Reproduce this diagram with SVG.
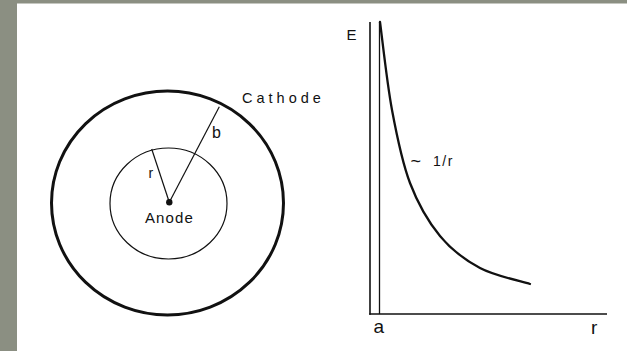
<svg xmlns="http://www.w3.org/2000/svg" width="627" height="351" viewBox="0 0 627 351">
<style>
.t{font-family:"Liberation Sans",Arial,sans-serif;fill:#111}
.thin{fill:none;stroke:#111;stroke-width:1.2}
</style>
<rect x="0" y="0" width="627" height="351" fill="#ffffff"/>
<rect x="0" y="0" width="627" height="3.5" fill="#8b8f82"/>
<rect x="0" y="0" width="17" height="351" fill="#8b8f82"/>

<g id="cathode">
  <ellipse cx="167.5" cy="203" rx="116" ry="112" fill="none" stroke="#111" stroke-width="3"/>
  <text class="t" x="242" y="103" font-size="14.5" letter-spacing="4">Cathode</text>
</g>
<g id="inner-circle">
  <ellipse class="thin" cx="168.5" cy="203.5" rx="58.5" ry="55.5"/>
</g>
<g id="anode">
  <circle cx="169.3" cy="202.3" r="3.2" fill="#111"/>
  <text class="t" x="145" y="222.7" font-size="15" letter-spacing="1.1">Anode</text>
</g>
<g id="connectors">
  <line class="thin" x1="169.3" y1="202.3" x2="151.7" y2="149"/>
  <line class="thin" x1="169.3" y1="202.3" x2="219.3" y2="106.7"/>
  <text class="t" x="148.5" y="178" font-size="14">r</text>
  <text class="t" x="212" y="138.3" font-size="16">b</text>
</g>

<g id="graph">
  <line x1="370" y1="22" x2="370" y2="314.8" stroke="#111" stroke-width="1.6"/>
  <line x1="379.5" y1="22" x2="379.5" y2="314" stroke="#111" stroke-width="1.3"/>
  <line x1="369.2" y1="314" x2="607" y2="314" stroke="#111" stroke-width="1.6"/>
  <path d="M380,22 C382,36.7 387,83.2 392,110 C397,136.8 402,162 410,183 C418,204 428.3,221.8 440,236 C451.7,250.2 465,260 480,268 C495,276 521.7,281.3 530,284" fill="none" stroke="#111" stroke-width="2.3" stroke-linecap="round"/>
  <text class="t" x="346.5" y="40" font-size="15">E</text>
  <text class="t" x="410.5" y="167" font-size="18">~</text>
  <text class="t" x="433" y="166" font-size="14" letter-spacing="1.5">1/r</text>
  <text class="t" x="373.5" y="333" font-size="19">a</text>
  <text class="t" x="591" y="334" font-size="19">r</text>
</g>
</svg>
